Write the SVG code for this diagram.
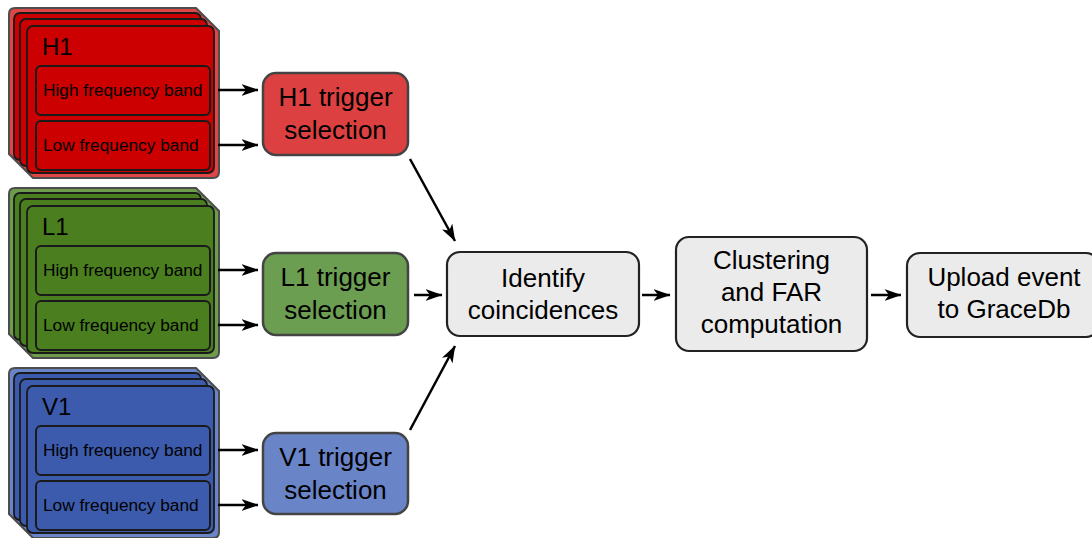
<svg xmlns="http://www.w3.org/2000/svg" width="1092" height="538" viewBox="0 0 1092 538">
<defs>
<marker id="arr" viewBox="0 0 17 12" markerWidth="17" markerHeight="12" refX="16.5" refY="6" orient="auto" markerUnits="userSpaceOnUse">
<path d="M0,0 L17,6 L0,12 L4.5,6 Z" fill="#000"/>
</marker>
<style>
text{font-family:"Liberation Sans",Arial,sans-serif;fill:#000}
.hull{stroke:#4d4d4d;stroke-width:2}
.card{stroke:#1a1a1a;stroke-width:1.8}
.band{stroke:#1a1a1a;stroke-width:2}
.lbl{font-size:24px}
.bt{font-size:17.3px}
.big{font-size:26px;text-anchor:middle}
.box{stroke:#444;stroke-width:2.5}
.gbox{fill:#ebebeb;stroke:#222;stroke-width:2.2}
.r1{fill:#df4646}.r2{fill:#cc0000}
.g1{fill:#6c9c4c}.g2{fill:#4a7e1e}
.b1{fill:#6a84c8}.b2{fill:#3d5bad}
.conn path{fill:none;stroke:#000;stroke-width:2.5;marker-end:url(#arr)}
</style>
</defs>

<g id="H1">
<path class="hull r1" d="M15,8 H196 L219,31 V172 Q219,178 213,178 H33 L9,154 V14 Q9,8 15,8 Z"/>
<rect class="card r2" x="14" y="13" width="187" height="147" rx="6"/>
<rect class="card r2" x="20" y="19" width="187" height="147" rx="6"/>
<rect class="card r2" x="27" y="26" width="187" height="147" rx="6"/>
<text class="lbl" x="42" y="55">H1</text>
<rect class="band r2" x="36" y="66" width="174" height="49" rx="5"/>
<text class="bt" x="43" y="96">High frequency band</text>
<rect class="band r2" x="36" y="121" width="174" height="49" rx="5"/>
<text class="bt" x="43" y="151">Low frequency band</text>
</g>

<g id="L1" transform="translate(0,180)">
<path class="hull g1" d="M15,8 H196 L219,31 V172 Q219,178 213,178 H33 L9,154 V14 Q9,8 15,8 Z"/>
<rect class="card g2" x="14" y="13" width="187" height="147" rx="6"/>
<rect class="card g2" x="20" y="19" width="187" height="147" rx="6"/>
<rect class="card g2" x="27" y="26" width="187" height="147" rx="6"/>
<text class="lbl" x="42" y="55">L1</text>
<rect class="band g2" x="36" y="66" width="174" height="49" rx="5"/>
<text class="bt" x="43" y="96">High frequency band</text>
<rect class="band g2" x="36" y="121" width="174" height="49" rx="5"/>
<text class="bt" x="43" y="151">Low frequency band</text>
</g>

<g id="V1" transform="translate(0,360)">
<path class="hull b1" d="M15,8 H196 L219,31 V172 Q219,178 213,178 H33 L9,154 V14 Q9,8 15,8 Z"/>
<rect class="card b2" x="14" y="13" width="187" height="147" rx="6"/>
<rect class="card b2" x="20" y="19" width="187" height="147" rx="6"/>
<rect class="card b2" x="27" y="26" width="187" height="147" rx="6"/>
<text class="lbl" x="42" y="55">V1</text>
<rect class="band b2" x="36" y="66" width="174" height="49" rx="5"/>
<text class="bt" x="43" y="96">High frequency band</text>
<rect class="band b2" x="36" y="121" width="174" height="49" rx="5"/>
<text class="bt" x="43" y="151">Low frequency band</text>
</g>

<g id="H1trigger">
<rect class="box" x="263" y="73" width="145" height="82" rx="13" fill="#dd4040"/>
<text class="big" x="335.5" y="106">H1 trigger</text>
<text class="big" x="335.5" y="139">selection</text>
</g>
<g id="L1trigger">
<rect class="box" x="263" y="253" width="145" height="82" rx="13" fill="#6c9e52"/>
<text class="big" x="335.5" y="286">L1 trigger</text>
<text class="big" x="335.5" y="319">selection</text>
</g>
<g id="V1trigger">
<rect class="box" x="263" y="433" width="145" height="81" rx="13" fill="#6a84c8"/>
<text class="big" x="335.5" y="466">V1 trigger</text>
<text class="big" x="335.5" y="499">selection</text>
</g>

<g id="identify">
<rect class="gbox" x="447" y="252" width="192" height="84" rx="13"/>
<text class="big" x="543" y="287">Identify</text>
<text class="big" x="543" y="319">coincidences</text>
</g>
<g id="clustering">
<rect class="gbox" x="676" y="237" width="191" height="114" rx="13"/>
<text class="big" x="771.5" y="269">Clustering</text>
<text class="big" x="771.5" y="301">and FAR</text>
<text class="big" x="771.5" y="333">computation</text>
</g>
<g id="upload">
<rect class="gbox" x="907" y="253" width="192" height="84" rx="13"/>
<text class="big" x="1004" y="286">Upload event</text>
<text class="big" x="1004" y="318">to GraceDb</text>
</g>

<g id="connectors" class="conn">
<path d="M218,90 H258"/>
<path d="M218,145 H258"/>
<path d="M218,270 H258"/>
<path d="M218,325 H258"/>
<path d="M218,450 H258"/>
<path d="M218,505 H258"/>
<path d="M410,159 L455,241"/>
<path d="M414,295 H442"/>
<path d="M410,430 L455,346"/>
<path d="M642,295 H670"/>
<path d="M871,295 H901"/>
</g>
</svg>
